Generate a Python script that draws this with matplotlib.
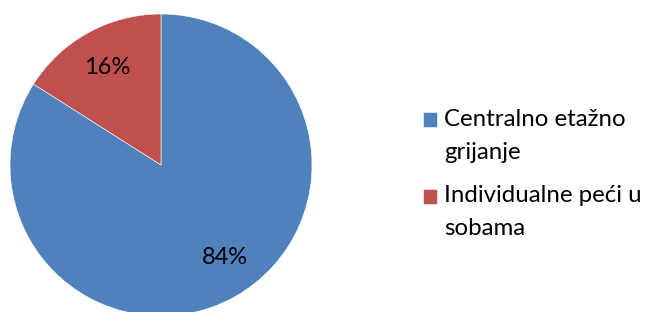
import matplotlib
matplotlib.use('Agg')
import matplotlib.pyplot as plt
from matplotlib.patches import Rectangle
from matplotlib.legend_handler import HandlerPatch

labels = ['Centralno etažno\ngrijanje', 'Individualne peći u\nsobama']
values = [84, 16]
colors = ['#4F81BD', '#C0504D']

plt.rcParams['font.family'] = ['Lato', 'DejaVu Sans']

fig = plt.figure(figsize=(6.46, 3.12), dpi=100)
ax = fig.add_axes([10 / 646, (312 - 165 - 151) / 312, 302 / 646, 302 / 312])

wedges, texts, autotexts = ax.pie(
    values, colors=colors, startangle=90, counterclock=False,
    autopct='%d%%', pctdistance=0.74,
    wedgeprops=dict(edgecolor='white', linewidth=0.4),
    textprops=dict(fontsize=17, color='black'))
# Excel puts the big label a little off the wedge bisector
x, y = autotexts[0].get_position()
autotexts[0].set_position((x + 0.07, y + 0.035))
ax.set_xlim(-1, 1)
ax.set_ylim(-1, 1)
ax.set_aspect('equal')


def top_square(legend, orig_handle, xdescent, ydescent, width, height, fontsize):
    # keep the marker next to the first line of a two-line label
    return Rectangle((-xdescent, -ydescent + 11.5), width, height)


leg = fig.legend(wedges, labels, loc='upper left', bbox_to_anchor=(413 / 646, 1 - 99 / 312),
                 frameon=False, fontsize=17.3, handlelength=0.6, handleheight=0.6,
                 handletextpad=0.3, labelspacing=0.95, borderaxespad=0,
                 handler_map={w: HandlerPatch(patch_func=top_square) for w in wedges})
for t in leg.get_texts():
    t.set_linespacing(1.7)

fig.savefig('out.png', dpi=100)
